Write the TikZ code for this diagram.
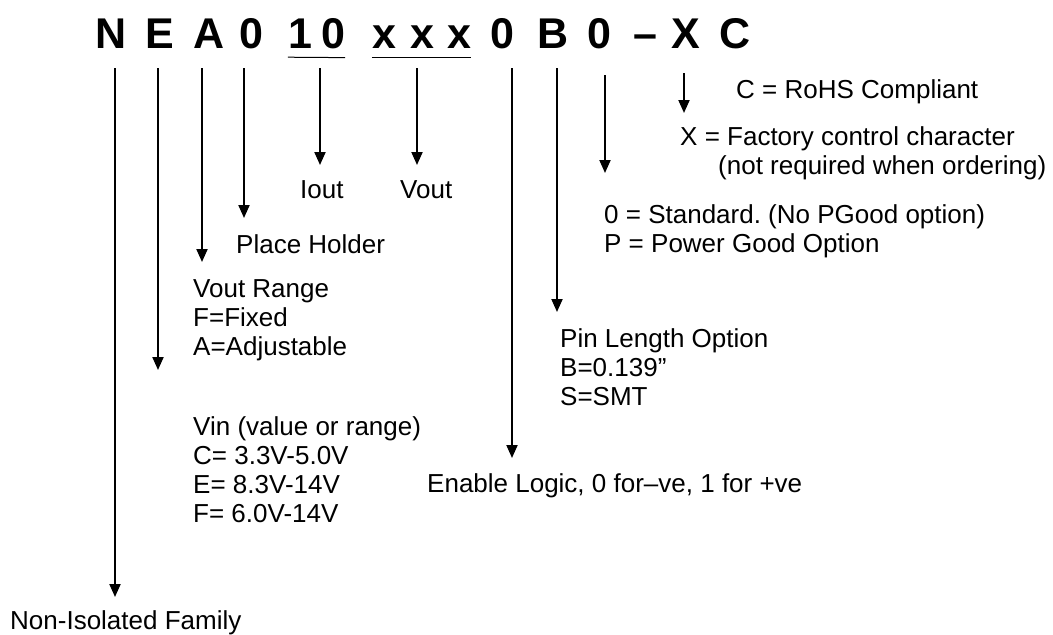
\documentclass[tikz,border=0pt]{standalone}
\usepackage{fontspec}
\setmainfont{Liberation Sans}
\usepackage{tikz}
\usetikzlibrary{arrows.meta}
\frenchspacing

\begin{document}
\begin{tikzpicture}[x=1pt,y=-1pt,
	arr/.style={line width=2pt,-{Triangle[length=13pt,width=11pt]}},
	txt/.style={anchor=base west,inner sep=0pt,align=left,font=\fontsize{26}{29}\selectfont},
	ttl/.style={anchor=base,inner sep=0pt,font=\fontsize{43}{43}\selectfont\bfseries}]
	\useasboundingbox (0,0) rectangle (1053,635);
	%title
	\foreach \c/\x [count=\i] in {N/111,E/160,A/209,0/251,1/300,0/333,x/384,x/422,x/459,0/502,B/553,0/599,–/645,X/686,C/735}{
		\node[ttl] (c\i) at (\x,48) {\c};
	}
	%underlines
	\draw[line width=1pt] ([yshift=-9pt]c5.south west) -- ([yshift=-9pt]c6.south east);
	\draw[line width=1pt] ([yshift=-9pt]c7.south west) -- ([yshift=-9pt]c9.south east);
	
	%arrows
	\foreach \nm/\x/\ya/\yb in {fam/115/68/597, vin/158/68/370, rng/202/68/262, hld/244/68/218, iout/320/68/165, vout/417/68/165, enb/512/68/458, pin/557/68/312, pg/605/75/173, rohs/684/73/113}{
		\draw[arr] (\x,\ya) coordinate (\nm-s) -- (\x,\yb) coordinate (\nm-e);
	}
	
	%labels (base = last line)
	\node[txt] (fam) at (10,629) {Non-Isolated Family};
	\node[txt] (vin) at (193,522) {Vin (value or range)\\C= 3.3V-5.0V\\E= 8.3V-14V\\F= 6.0V-14V};
	\node[txt] (rng) at (193,355) {Vout Range\\F=Fixed\\A=Adjustable};
	\node[txt] (hld) at (236,253) {Place Holder};
	\node[txt] (iout) at (300,198) {Iout};
	\node[txt] (vout) at (400,198) {Vout};
	\node[txt] (enb) at (427,492) {Enable Logic, 0 for–ve, 1 for +ve};
	\node[txt] (pin) at (560,405) {Pin Length Option\\B=0.139”\\S=SMT};
	\node[txt] (pg) at (604,252) {0 = Standard. (No PGood option)\\P = Power Good Option};
	\node[txt] (fac) at (680,174) {X = Factory control character\\\hspace{38pt}(not required when ordering)};
	\node[txt] (rohs) at (736,98) {C = RoHS Compliant};
\end{tikzpicture}
\end{document}
